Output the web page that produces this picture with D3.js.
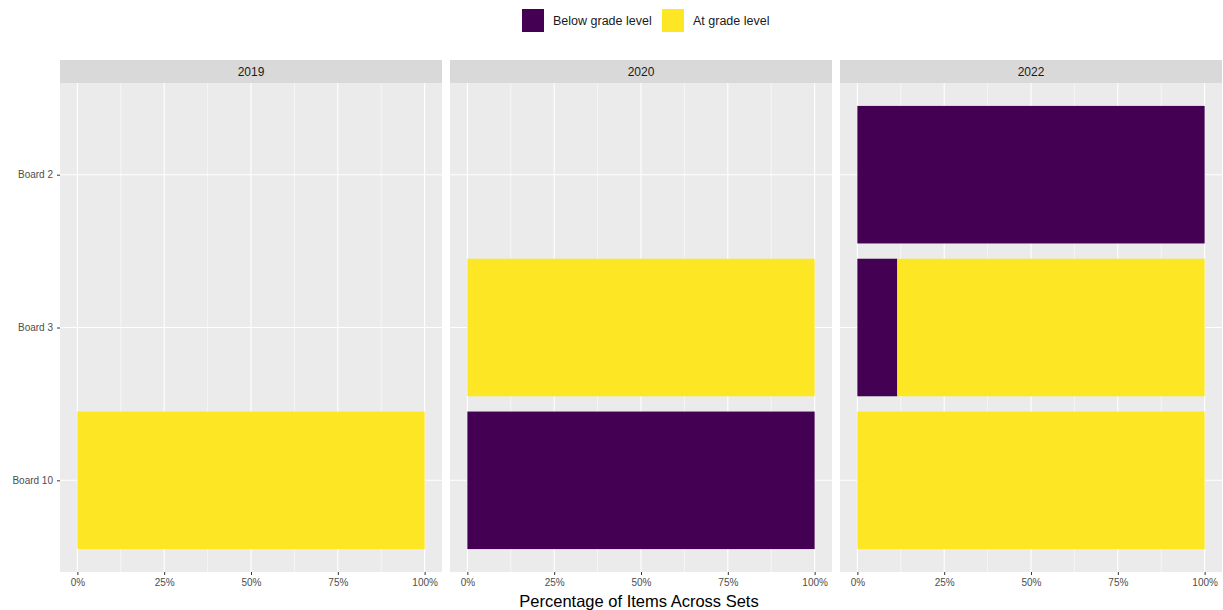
<!DOCTYPE html>
<html><head><meta charset="utf-8">
<script src="https://cdn.jsdelivr.net/npm/d3@7"></script>
<style>body{margin:0;background:#fff;font-family:"Liberation Sans",Arial,sans-serif;}</style>
</head><body><svg id="c" width="1223" height="610"></svg>
<script>
const years = ["2019", "2020", "2022"];
const boards = ["Board 2", "Board 3", "Board 10"];
const levels = ["Below grade level", "At grade level"];
const levelColors = ["#440154", "#FDE725"];
// share of "Below grade level" per year per board (null = no data)
const belowShare = {
  "2019": [null, null, 0],
  "2020": [null, 0, 1],
  "2022": [1, 0.115, 0]
};
const xTicks = [0, 0.25, 0.5, 0.75, 1];
const xMinor = [0.125, 0.375, 0.625, 0.875];

const svg = d3.select("#c");
const panelX = [60, 450, 840], panelW = 382;
const stripTop = 60, stripH = 23, panelTop = 83, panelBot = 572;

// ggplot discrete expansion: 0.6 units each side
const step = (panelBot - panelTop) / (boards.length - 1 + 1.2);
const yc = b => panelTop + step * (0.6 + boards.indexOf(b));
const barH = step * 0.9;
const FONT = "Liberation Sans, Arial, sans-serif";

years.forEach((yr, i) => {
  const x0 = panelX[i];
  const x = d3.scaleLinear().domain([-0.05, 1.05]).range([x0, x0 + panelW]);
  const g = svg.append("g");
  g.append("rect").attr("x", x0).attr("y", panelTop).attr("width", panelW).attr("height", panelBot - panelTop).attr("fill", "#EBEBEB");
  xMinor.forEach(t => g.append("line").attr("x1", x(t)).attr("x2", x(t)).attr("y1", panelTop).attr("y2", panelBot).attr("stroke", "#fff").attr("stroke-width", 0.55));
  xTicks.forEach(t => g.append("line").attr("x1", x(t)).attr("x2", x(t)).attr("y1", panelTop).attr("y2", panelBot).attr("stroke", "#fff").attr("stroke-width", 1.1));
  boards.forEach(b => g.append("line").attr("x1", x0).attr("x2", x0 + panelW).attr("y1", yc(b)).attr("y2", yc(b)).attr("stroke", "#fff").attr("stroke-width", 1.1));
  // strip
  g.append("rect").attr("x", x0).attr("y", stripTop).attr("width", panelW).attr("height", stripH).attr("fill", "#D9D9D9");
  g.append("text").attr("x", x0 + panelW / 2).attr("y", stripTop + stripH / 2 + 4).attr("text-anchor", "middle").attr("font-size", 12).attr("fill", "#1A1A1A").text(yr);
  // bars
  belowShare[yr].forEach((v, bi) => {
    if (v === null) return;
    const b = boards[bi];
    const segs = [[0, v, 0], [v, 1, 1]];
    segs.forEach(([a, e, li]) => {
      if (e - a <= 0) return;
      g.append("rect").attr("x", x(a)).attr("width", x(e) - x(a)).attr("y", yc(b) - barH / 2).attr("height", barH).attr("fill", levelColors[li]);
    });
  });
  // x axis
  const ax = d3.axisBottom(x).tickValues(xTicks).tickFormat(d => Math.round(d * 100) + "%").tickSize(3).tickPadding(4);
  const axg = g.append("g").attr("transform", `translate(0,${panelBot})`).call(ax);
  axg.select(".domain").remove();
  axg.selectAll("line").attr("stroke", "#333");
  axg.selectAll("text").attr("font-size", 10).attr("fill", "#4D4D4D").attr("font-family", FONT);
});

// y axis
const yAxisScale = d3.scalePoint().domain(boards).range([yc(boards[0]), yc(boards[boards.length - 1])]);
const ayg = svg.append("g").attr("transform", `translate(${panelX[0]},0)`).call(d3.axisLeft(yAxisScale).tickSize(3).tickPadding(4));
ayg.select(".domain").remove();
ayg.selectAll("line").attr("stroke", "#333");
ayg.selectAll("text").attr("font-size", 10).attr("fill", "#4D4D4D").attr("font-family", FONT);

// x title
svg.append("text").attr("x", 639).attr("y", 607).attr("text-anchor", "middle").attr("font-size", 16.5).attr("fill", "#000").text("Percentage of Items Across Sets");

// legend
const legX = [522, 662], legTxt = [553, 693];
levels.forEach((l, i) => {
  svg.append("rect").attr("x", legX[i]).attr("y", 9).attr("width", 22).attr("height", 23).attr("fill", levelColors[i]);
  svg.append("text").attr("x", legTxt[i]).attr("y", 25).attr("font-size", 12.5).attr("fill", "#1A1A1A").text(l);
});
</script></body></html>
